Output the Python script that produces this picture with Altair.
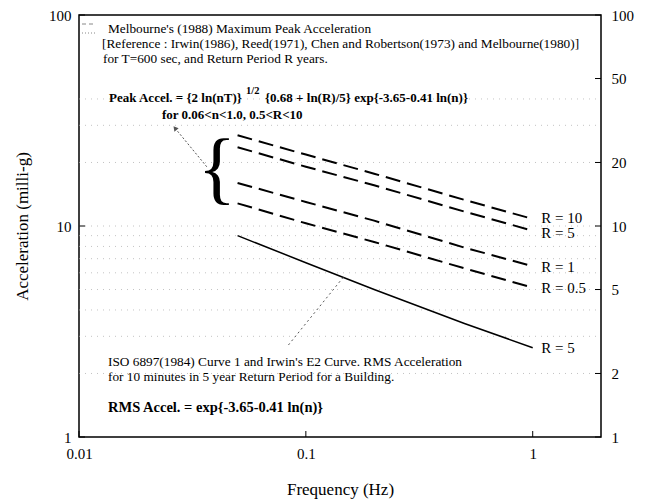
import altair as alt
import pandas as pd

# ---- data ----
freq = [0.05, 0.1, 0.2, 0.5, 1.0]
peak_r10 = [26.9, 21.8, 17.7, 13.3, 10.8]
peak_r5 = [23.6, 19.1, 15.6, 11.7, 9.5]
peak_r1 = [16.0, 13.0, 10.6, 7.9, 6.45]
peak_r05 = [12.8, 10.3, 8.4, 6.3, 5.1]
rms_r5 = [9.0, 6.7, 5.0, 3.45, 2.65]
peak_names = ["R = 10", "R = 5", "R = 1", "R = 0.5"]

label_texts = ["R = 10", "R = 5", "R = 1", "R = 0.5", "R = 5"]
label_vals = [10.9, 9.3, 6.4, 5.1, 2.64]
label_freq = 1.09

x_ticks = [0.01, 0.1, 1]
y_ticks_left = [1, 10, 100]
y_ticks_right = [1, 2, 5, 10, 20, 50, 100]
grid_levels = [2, 3, 4, 5, 6, 7, 8, 9, 10, 20, 30, 40]

arrow1_f = [0.0367, 0.0265]
arrow1_a = [19.0, 29.1]
arrow2_f = [0.0838, 0.149]
arrow2_a = [2.73, 5.86]

W, H = 522, 422
FONT = "Liberation Serif"

xs = alt.Scale(type="log", domain=[0.01, 2], nice=False)
ys = alt.Scale(type="log", domain=[1, 100], nice=False)

rows = []
for name, vals in zip(peak_names, [peak_r10, peak_r5, peak_r1, peak_r05]):
    for f, v in zip(freq, vals):
        rows.append({"series": name, "n": f, "acc": v})
peak_df = pd.DataFrame(rows)
rms_df = pd.DataFrame({"n": freq, "acc": rms_r5})
lab_df = pd.DataFrame({"t": label_texts, "v": label_vals, "n": [label_freq] * len(label_texts)})
grid_df = pd.DataFrame({"v": grid_levels})
one = pd.DataFrame({"a": [0]})

x_axis = alt.Axis(values=x_ticks, format="~g", labelFont=FONT, labelFontSize=15,
                  labelColor="black", ticks=False, domain=False, grid=False,
                  labelFlush=False, labelPadding=9, title="Frequency (Hz)",
                  titleFont=FONT, titleFontSize=17, titleFontWeight="normal",
                  titleColor="black", titlePadding=20)
y_axis = alt.Axis(values=y_ticks_left, format="~g", labelFont=FONT, labelFontSize=15,
                  labelColor="black", ticks=False, domain=False, grid=False,
                  labelFlush=False, labelPadding=8, title="Acceleration (milli-g)",
                  titleFont=FONT, titleFontSize=17, titleFontWeight="normal",
                  titleColor="black", titlePadding=17)
y_axis_r = alt.Axis(orient="right", values=y_ticks_right, format="~g", labelFont=FONT,
                    labelFontSize=15, labelColor="black", ticks=False, domain=False,
                    grid=False, labelFlush=False, labelPadding=10, title=None)

grid = alt.Chart(grid_df).mark_rule(color="#aaaaaa", strokeDash=[1, 5], strokeWidth=1,
                                    opacity=0.7).encode(
    y=alt.Y("v:Q", scale=ys, axis=None), x=alt.value(0), x2=alt.value(W))

peak = alt.Chart(peak_df).mark_line(color="black", strokeWidth=2, strokeDash=[15, 7]).encode(
    x=alt.X("n:Q", scale=xs, axis=x_axis),
    y=alt.Y("acc:Q", scale=ys, axis=y_axis),
    detail="series:N")

rms = alt.Chart(rms_df).mark_line(color="black", strokeWidth=1.5).encode(
    x=alt.X("n:Q", scale=xs, axis=None), y=alt.Y("acc:Q", scale=ys, axis=None))

labels = alt.Chart(lab_df).mark_text(font=FONT, fontSize=15, align="left",
                                     baseline="middle", color="black").encode(
    x=alt.X("n:Q", scale=xs, axis=None), y=alt.Y("v:Q", scale=ys, axis=None), text="t:N")

right_ticks = alt.Chart(pd.DataFrame({"v": y_ticks_right})).mark_rule(color="black").encode(
    y=alt.Y("v:Q", scale=ys, axis=y_axis_r), x=alt.value(W - 6), x2=alt.value(W))
left_ticks = alt.Chart(pd.DataFrame({"v": y_ticks_left})).mark_rule(color="black").encode(
    y=alt.Y("v:Q", scale=ys, axis=None), x=alt.value(0), x2=alt.value(6))
bottom_ticks = alt.Chart(pd.DataFrame({"f": x_ticks})).mark_rule(color="black").encode(
    x=alt.X("f:Q", scale=xs, axis=None), y=alt.value(H - 6), y2=alt.value(H))

a1 = pd.DataFrame({"n": arrow1_f, "acc": arrow1_a})
a2 = pd.DataFrame({"n": arrow2_f, "acc": arrow2_a})
arrow1 = alt.Chart(a1).mark_line(color="#555555", strokeWidth=1, strokeDash=[2, 2]).encode(
    x=alt.X("n:Q", scale=xs, axis=None), y=alt.Y("acc:Q", scale=ys, axis=None))
arrow2 = alt.Chart(a2).mark_line(color="#555555", strokeWidth=1, strokeDash=[2, 3]).encode(
    x=alt.X("n:Q", scale=xs, axis=None), y=alt.Y("acc:Q", scale=ys, axis=None))
head1 = alt.Chart(a1.iloc[[1]]).mark_point(shape="triangle-up", filled=True, color="#555555",
                                            size=30, angle=321, opacity=1).encode(
    x=alt.X("n:Q", scale=xs, axis=None), y=alt.Y("acc:Q", scale=ys, axis=None))

def txt(s, px, py, size=13.3, weight="normal"):
    return alt.Chart(one).mark_text(text=s, font=FONT, fontSize=size, fontWeight=weight,
                                    align="left", baseline="middle", color="black").encode(
        x=alt.value(px - 79), y=alt.value(py - 15))

brace = alt.Chart(one).mark_text(text="{", font=FONT, fontSize=80, align="center",
                                 baseline="middle", color="black").encode(
    x=alt.value(217 - 79), y=alt.value(170 - 15))

legend_dash = alt.Chart(one).mark_rule(color="#888888", strokeDash=[4, 3]).encode(
    x=alt.value(3), x2=alt.value(17), y=alt.value(9), y2=alt.value(9))
legend_dot = alt.Chart(one).mark_rule(color="#888888", strokeDash=[1, 2]).encode(
    x=alt.value(3), x2=alt.value(17), y=alt.value(18), y2=alt.value(18))

PF = 13  # bold formula size in the top block
texts = [
    txt("Melbourne's (1988) Maximum Peak Acceleration", 108, 29),
    txt("[Reference : Irwin(1986), Reed(1971), Chen and Robertson(1973) and Melbourne(1980)]", 102, 44),
    txt("for T=600 sec, and Return Period R years.", 103, 59),
    txt("Peak Accel. = {2 ln(nT)}", 109, 98, PF, "bold"),
    txt("1/2", 246, 91, 10.5, "bold"),
    txt("{0.68 + ln(R)/5}  exp{-3.65-0.41 ln(n)}", 265, 98, PF, "bold"),
    txt("for 0.06<n<1.0, 0.5<R<10", 162, 115, PF, "bold"),
    txt("ISO 6897(1984) Curve 1 and Irwin's  E2 Curve. RMS Acceleration", 108, 362),
    txt("for 10 minutes in 5 year Return Period for a Building.", 108, 377),
    txt("RMS Accel. = exp{-3.65-0.41 ln(n)}", 108, 408, 14.5, "bold"),
]

chart = alt.layer(grid, peak, rms, labels, right_ticks, left_ticks, bottom_ticks,
                  arrow1, arrow2, head1, brace, legend_dash, legend_dot, *texts).resolve_axis(
    x="independent", y="independent").properties(
    width=W, height=H,
    autosize=alt.AutoSizeParams(type="none"),
    padding={"left": 71, "top": 7, "right": 43, "bottom": 62},
    background="white",
).configure_view(stroke="black", strokeWidth=1.5)

chart.save("out.html", embed_options={"renderer": "svg", "actions": False})
